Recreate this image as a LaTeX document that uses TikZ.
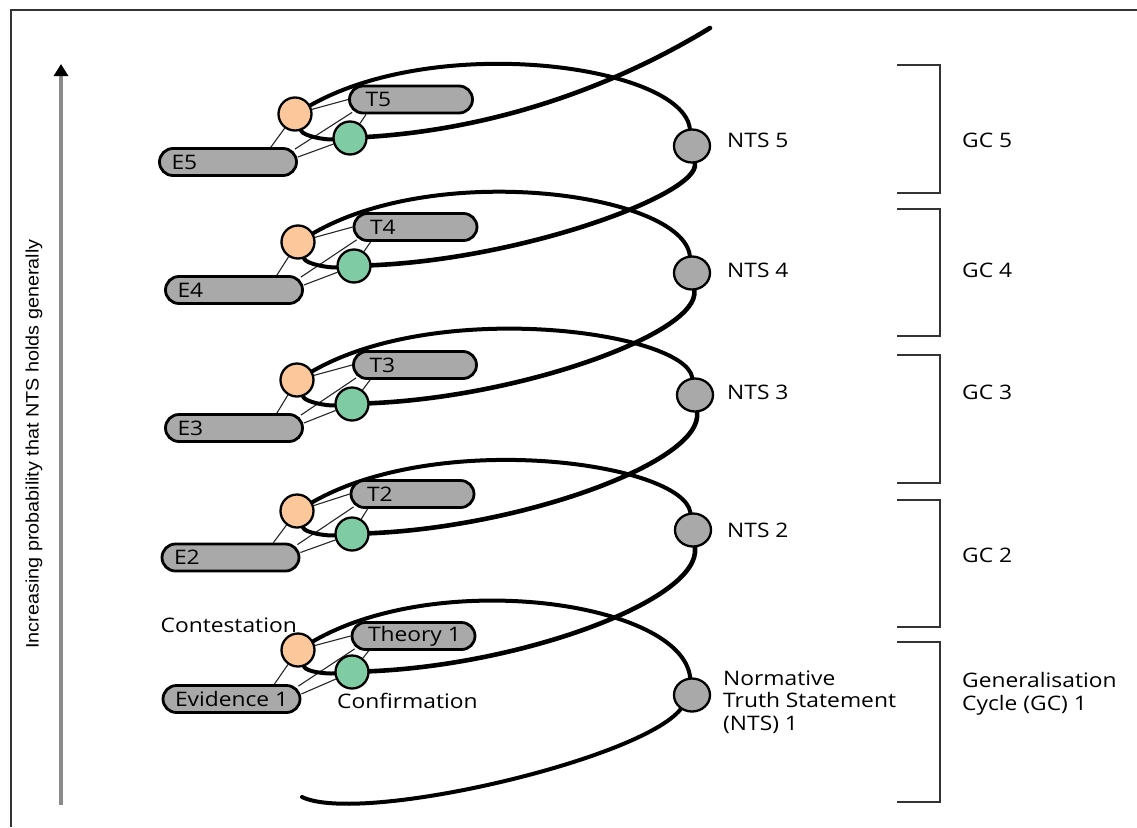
\documentclass[tikz,border=0pt]{standalone}
\usepackage{fontspec}
\setmainfont[FakeStretch=1.14]{Open Sans}
\newfontfamily\axisfont[FakeStretch=1.1]{Liberation Sans}
\usetikzlibrary{arrows.meta,backgrounds,shapes.geometric}
\definecolor{orfill}{HTML}{FCC79A}
\definecolor{grfill}{HTML}{7FCBA3}
\definecolor{bxfill}{HTML}{A9A9A9}
\definecolor{framecol}{HTML}{333333}
\definecolor{axisgray}{HTML}{8A8A8A}
\newcommand{\evtxt}[1]{\makebox[113pt][l]{#1}}
\newcommand{\thtxt}[1]{\makebox[91pt][l]{#1}}
\begin{document}
\begin{tikzpicture}[x=1pt,y=1pt,
  every node/.style={font=\fontsize{20}{22.5}\selectfont},
  helix/.style={line width=4pt, line cap=round},
  rise/.style={line width=4.6pt, line cap=round},
  conn/.style={line width=1.1pt, draw=black!85},
  ocirc/.style={circle, draw, line width=2.3pt, fill=orfill, minimum size=33pt, inner sep=0pt},
  gcirc/.style={circle, draw, line width=2.3pt, fill=grfill, minimum size=33pt, inner sep=0pt},
  ncirc/.style={ellipse, draw, line width=2.3pt, fill=bxfill, minimum width=36pt, minimum height=33pt, inner sep=0pt},
  ebox/.style={rectangle, rounded corners=13.5pt, draw, line width=2.8pt, fill=bxfill, minimum height=27pt, inner ysep=0pt, inner xsep=12pt},
  tbox/.style={rectangle, rounded corners=13.5pt, draw, line width=2.8pt, fill=bxfill, minimum height=27pt, inner ysep=0pt, inner xsep=16pt},
  lab/.style={inner sep=0pt},
  bracket/.style={line width=1.8pt, draw=framecol},
  axisline/.style={line width=3.2pt, draw=axisgray, -{Triangle[width=14pt,length=12pt,color=black]}}
]
\useasboundingbox (0,0) rectangle (1137,-827);
% frame
\draw[line width=2.6pt, draw=framecol] (11,-827) -- (11,-10) -- (1137,-10);

% axis
\coordinate (ax0) at (61,-805);
\coordinate (ax1) at (61,-64);
\draw[axisline] (ax0) -- (ax1);
\node[lab, rotate=90, font=\axisfont\fontsize{18}{21}\selectfont] (axlab) at (34,-444) {Increasing probability that NTS holds generally};

% level 1
\node[ocirc] (O1) at (298,-650) {};
\node[gcirc] (G1) at (352,-672) {};
\node[tbox] (T1) at (413.5,-636) {\thtxt{Theory 1}};
\node[ebox] (E1) at (231.5,-699) {\evtxt{Evidence 1}};
\node[ncirc] (N1) at (692,-695) {};
% level 2
\node[ocirc] (O2) at (297,-511) {};
\node[gcirc] (G2) at (352,-534) {};
\node[tbox] (T2) at (412.5,-494) {\thtxt{T2}};
\node[ebox] (E2) at (230.5,-557.5) {\evtxt{E2}};
\node[ncirc] (N2) at (693,-530) {};
% level 3
\node[ocirc] (O3) at (297,-380) {};
\node[gcirc] (G3) at (352,-404) {};
\node[tbox] (T3) at (415,-365) {\thtxt{T3}};
\node[ebox] (E3) at (234,-428) {\evtxt{E3}};
\node[ncirc] (N3) at (695,-395) {};
% level 4
\node[ocirc] (O4) at (298,-242) {};
\node[gcirc] (G4) at (354,-266) {};
\node[tbox] (T4) at (415.5,-227) {\thtxt{T4}};
\node[ebox] (E4) at (234,-290) {\evtxt{E4}};
\node[ncirc] (N4) at (692,-273) {};
% level 5
\node[ocirc] (O5) at (295,-114) {};
\node[gcirc] (G5) at (350,-138) {};
\node[tbox] (T5) at (411,-99.5) {\thtxt{T5}};
\node[ebox] (E5) at (228,-162) {\evtxt{E5}};
\node[ncirc] (N5) at (692,-146) {};

\coordinate (S) at (302,-797);
\coordinate (top) at (710,-28);

\begin{scope}[on background layer]
\foreach \k in {1,...,5}{
  \draw[conn] ([xshift=-27pt]E\k.north east) -- (O\k);
  \draw[conn] ([xshift=-3pt,yshift=-2pt]E\k.north east) -- ([xshift=4pt,yshift=2pt]T\k.south west);
  \draw[conn] ([yshift=5pt]E\k.east) -- (G\k);
  \draw[conn] (O\k) -- (T\k.west);
  \draw[conn] ([xshift=18pt]T\k.south west) -- (G\k);
  \draw[helix] (O\k) .. controls +(8,-22) and +(-25,-2) .. (G\k);
}
\draw[helix] (S) .. controls (360,-825) and (640,-760) .. (N1);
\draw[helix] (N1) .. controls (682,-602) and (440,-568) .. (O1);
\draw[rise] (G1) .. controls +(170,7) and +(8,-70) .. (N2);
\draw[helix] (N2) .. controls (683,-463) and (440,-429) .. (O2);
\draw[rise] (G2) .. controls +(170,7) and +(8,-67) .. (N3);
\draw[helix] (N3) .. controls (685,-332) and (440,-298) .. (O3);
\draw[rise] (G3) .. controls +(170,7) and +(8,-60) .. (N4);
\draw[helix] (N4) .. controls (682,-194) and (440,-160) .. (O4);
\draw[rise] (G4) .. controls +(170,7) and +(8,-48) .. (N5);
\draw[helix] (N5) .. controls (682,-66) and (440,-32) .. (O5);
\draw[rise] (G5) .. controls +(130,8) and (600,-95) .. (top);
\end{scope}

% labels
\node[lab, anchor=east] (contl) at (297,-625) {Contestation};
\node[lab, anchor=west] (confl) at (337,-701) {Confirmation};
\node[lab, anchor=west, align=left] (nts1l) at (723,-702) {Normative\\Truth Statement\\(NTS) 1};
\node[lab, anchor=west] (nts2l) at (727,-530) {NTS 2};
\node[lab, anchor=west] (nts3l) at (727,-392) {NTS 3};
\node[lab, anchor=west] (nts4l) at (727,-270) {NTS 4};
\node[lab, anchor=west] (nts5l) at (727,-140) {NTS 5};

% brackets
\draw[bracket] (897,-65) -- (940,-65) -- (940,-193) -- (897,-193);
\draw[bracket] (897,-209) -- (940,-209) -- (940,-336) -- (897,-336);
\draw[bracket] (897,-355) -- (940,-355) -- (940,-483) -- (897,-483);
\draw[bracket] (897,-500) -- (940,-500) -- (940,-627) -- (897,-627);
\draw[bracket] (897,-642) -- (940,-642) -- (940,-802) -- (897,-802);

\node[lab, anchor=west] (gc5) at (962,-140) {GC 5};
\node[lab, anchor=west] (gc4) at (962,-270) {GC 4};
\node[lab, anchor=west] (gc3) at (962,-392) {GC 3};
\node[lab, anchor=west] (gc2) at (962,-555) {GC 2};
\node[lab, anchor=west, align=left] (gc1) at (962,-694) {Generalisation\\Cycle (GC) 1};
\end{tikzpicture}
\end{document}
